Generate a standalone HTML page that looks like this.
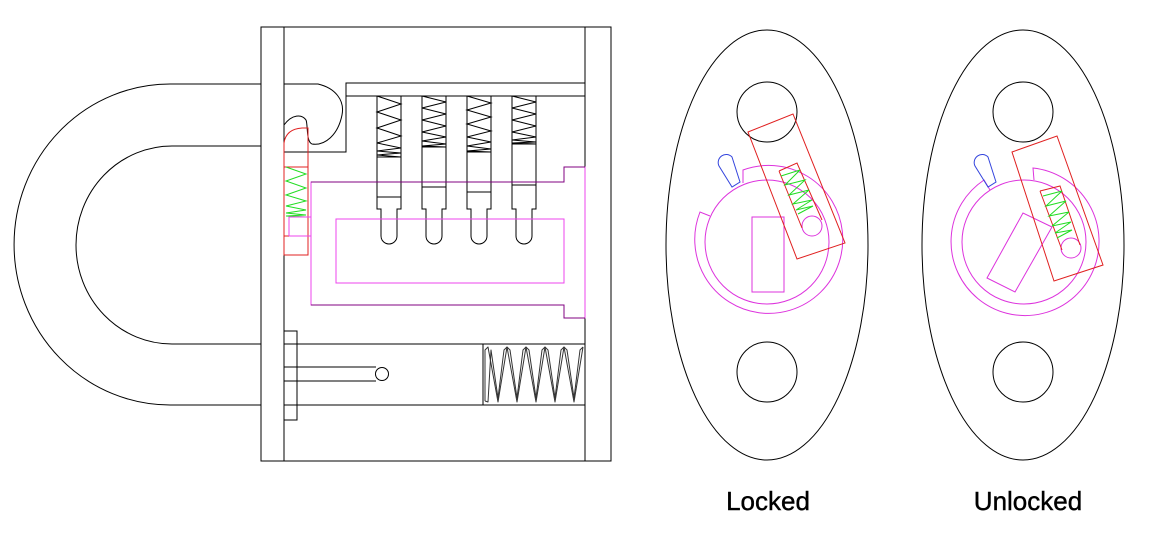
<!DOCTYPE html>
<html><head><meta charset="utf-8"><style>
html,body{margin:0;padding:0;background:#fff;}
svg{display:block}
text{font-family:"Liberation Sans",sans-serif;}
</style></head><body>
<svg width="1150" height="552" viewBox="0 0 1150 552" xmlns="http://www.w3.org/2000/svg">
<g fill="none" stroke="#000" stroke-width="1">
<!-- shackle -->
<path d="M261 84 H170 A156 160.5 0 0 0 170 405 H261" />
<path d="M261 146 H172 A96 99 0 0 0 172 344 H261" />
<!-- body -->
<rect x="261" y="27" width="350" height="434"/>
<line x1="284" y1="27" x2="284" y2="461"/>
<line x1="585" y1="27" x2="585" y2="461"/>
<!-- shelf -->
<path d="M585 83 H346 V152 H284"/>
<line x1="346" y1="96" x2="585" y2="96"/>
<!-- hook -->
<path d="M284 84 H318 C335 88 345 100 342 115 C338 135 325 146 312 144 C306 142 308 124 306 120 C302 114 292 114 284 125"/>
<!-- pins -->
<g>
<path d="M377 96 V209 H381 V236 A8 8 0 0 0 397 236 V209 H401 V96"/>
<line x1="377" y1="157" x2="401" y2="157"/><line x1="377" y1="197" x2="401" y2="197"/>
<polyline points="377,96 401,104 377,112 401,120 377,128 401,136 377,143 401,148 377,151 401,153 377,155 401,157"/>
<path d="M422 96 V209 H426 V236 A8 8 0 0 0 442 236 V209 H446 V96"/>
<line x1="422" y1="147" x2="446" y2="147"/><line x1="422" y1="187" x2="446" y2="187"/>
<polyline points="422,96 446,102 422,108 446,114 422,120 446,126 422,132 446,137 422,141 446,144 422,146 446,147"/>
<path d="M467 96 V209 H471 V236 A8 8 0 0 0 487 236 V209 H491 V96"/>
<line x1="467" y1="152" x2="491" y2="152"/><line x1="467" y1="192" x2="491" y2="192"/>
<polyline points="467,96 491,103 467,110 491,117 467,124 491,131 467,137 491,142 467,146 491,149 467,151 491,152"/>
<path d="M512 96 V209 H516 V236 A8 8 0 0 0 532 236 V209 H536 V96"/>
<line x1="512" y1="144" x2="536" y2="144"/><line x1="512" y1="185" x2="536" y2="185"/>
<polyline points="512,96 536,102 512,108 536,114 512,120 536,126 512,132 536,137 512,140 536,142 512,143 536,144"/>
</g>
<!-- bottom bolt -->
<line x1="284" y1="344" x2="585" y2="344"/>
<line x1="284" y1="405" x2="585" y2="405"/>
<rect x="284" y="331" width="13" height="89"/>
<path d="M284 367 H376 M284 381 H376"/>
<circle cx="382" cy="374" r="6.5"/>
<line x1="483" y1="344" x2="483" y2="405"/>
<g stroke-linejoin="round" stroke="#333">
<polyline points="485,401 485,350 488,347 498,402 507,347 517,402 526,347 536,402 545,347 555,402 564,347 574,402 583,347"/>
<polyline points="485,401 488,402 491,350 498,398 504,350 507,347 510,350 517,398 523,350 526,347 529,350 536,398 542,350 545,347 548,350 555,398 561,350 564,347 567,350 574,398 580,350 583,347"/>
</g>
</g>
<!-- red side locking piece -->
<g fill="none" stroke="#e02020">
<path d="M284 255 V143 Q286 129 302 128 H308 V255 Z"/>
<line x1="284" y1="167" x2="308" y2="167"/>
<line x1="284" y1="236" x2="308" y2="236"/>
</g>
<polyline fill="none" stroke="#22dd22" points="286,167 306,174 286,181 306,188 286,195 306,201 286,206 306,210 286,213 306,215 286,216 306,217"/>
<!-- magenta cylinder -->
<g fill="none" stroke="#ee44ee">
<path d="M311 182 H564 V167 H585 V318 H564 V305 H311 Z"/>
<rect x="336" y="219" width="228" height="64"/>
<path d="M289 236 V217 H311 M289 236 H311"/>
</g>
<path d="M311 182 H564 V167 H585 M311 305 H564 V318 H585" fill="none" stroke="#800080"/>

<!-- views -->
<g fill="none" stroke="#000">
<ellipse cx="767" cy="245" rx="101" ry="215"/>
<circle cx="767" cy="112" r="30"/>
<circle cx="767" cy="372" r="30"/>
<ellipse cx="1023" cy="245" rx="101" ry="215"/>
<circle cx="1023" cy="112" r="30"/>
<circle cx="1023" cy="372" r="30"/>
</g>
<g fill="none" stroke="#dd33dd">
<circle cx="767" cy="242" r="62"/>
<path d="M743 183 L743 170 A74 74 0 1 1 700 212 L710 216"/>
<rect x="752" y="217" width="32" height="75"/>
<circle cx="812" cy="226" r="10"/>
<circle cx="1024" cy="242" r="62"/>
<path d="M1034 180 L1033 168 A74 74 0 1 1 984 180 L990 190"/>
<polygon points="987,278 1023,213 1052,227 1015,292"/>
<circle cx="1071" cy="248" r="10"/>
</g>
<g fill="none" stroke="#3344dd">
<path d="M732 187 L719 166 A8 8 0 0 1 732 157 L740 182 Z"/>
<path d="M988 187 L975 166 A8 8 0 0 1 988 157 L996 182 Z"/>
</g>
<g fill="none" stroke="#e02020">
<polygon points="748,132 793,114 845,243 797,259"/>
<path d="M779 171 L797 163 L822 220 M779 171 L802 228"/>
<polygon points="1012,152 1057,136 1103,265 1054,281"/>
<path d="M1040 191 L1060 186 L1080 245 M1040 191 L1062 250"/>
</g>
<g fill="none" stroke="#22dd22">
<polyline points="781,176 800,170 785,185 805,180 789,195 809,190 793,204 812,200 796,210 813,206 798,214"/>
<polyline points="1043,196 1062,191 1046,206 1066,201 1049,216 1069,212 1052,226 1071,222 1055,233 1072,230 1057,238"/>
</g>
<text x="768" y="510" font-size="26" text-anchor="middle" fill="#000" stroke="#000" stroke-width="0.4">Locked</text>
<text x="1028" y="510" font-size="26" text-anchor="middle" fill="#000" stroke="#000" stroke-width="0.4">Unlocked</text>
</svg>
</body></html>
